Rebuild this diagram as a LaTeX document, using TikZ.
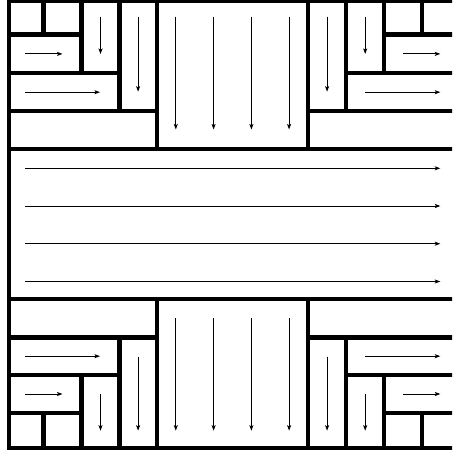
\documentclass[tikz,border=0pt]{standalone}
\usetikzlibrary{arrows.meta}
\begin{document}
\begin{tikzpicture}[x=1pt,y=-1pt,
  wall/.style={line width=4.4pt,line cap=rect},
  flow/.style={line width=0.9pt,-{Stealth[length=5.5pt,width=4pt,inset=1.2pt]}}]
\useasboundingbox (0,0) rectangle (452,454);
\clip (0,0) rectangle (452,454);
% grid positions (pixels)
\def\cA{8.7}\def\cB{43.5}\def\cC{81.6}\def\cD{119.3}\def\cE{156.9}
\def\cF{308}\def\cG{346.2}\def\cH{384.2}\def\cI{422}\def\cJ{457}
\def\rA{0.5}\def\rB{34.5}\def\rC{73.3}\def\rD{111}\def\rE{148.8}
\def\rF{299}\def\rG{337.3}\def\rH{375}\def\rI{413}\def\rJ{448}
% frame
\draw[wall] (\cA,\rA) rectangle (\cJ,\rJ);
% top-left
\draw[wall] (\cB,\rA) -- (\cB,\rB);
\draw[wall] (\cC,\rA) -- (\cC,\rC);
\draw[wall] (\cD,\rA) -- (\cD,\rD);
\draw[wall] (\cE,\rA) -- (\cE,\rE);
\draw[wall] (\cA,\rB) -- (\cC,\rB);
\draw[wall] (\cA,\rC) -- (\cD,\rC);
\draw[wall] (\cA,\rD) -- (\cE,\rD);
\draw[wall] (\cA,\rE) -- (\cJ,\rE);
% top-right
\draw[wall] (\cI,\rA) -- (\cI,\rB);
\draw[wall] (\cH,\rA) -- (\cH,\rC);
\draw[wall] (\cG,\rA) -- (\cG,\rD);
\draw[wall] (\cF,\rA) -- (\cF,\rE);
\draw[wall] (\cH,\rB) -- (\cJ,\rB);
\draw[wall] (\cG,\rC) -- (\cJ,\rC);
\draw[wall] (\cF,\rD) -- (\cJ,\rD);
% bottom
\draw[wall] (\cA,\rF) -- (\cJ,\rF);
\draw[wall] (\cA,\rG) -- (\cE,\rG);
\draw[wall] (\cA,\rH) -- (\cD,\rH);
\draw[wall] (\cA,\rI) -- (\cC,\rI);
\draw[wall] (\cE,\rF) -- (\cE,\rJ);
\draw[wall] (\cD,\rG) -- (\cD,\rJ);
\draw[wall] (\cC,\rH) -- (\cC,\rJ);
\draw[wall] (\cB,\rI) -- (\cB,\rJ);
\draw[wall] (\cF,\rG) -- (\cJ,\rG);
\draw[wall] (\cG,\rH) -- (\cJ,\rH);
\draw[wall] (\cH,\rI) -- (\cJ,\rI);
\draw[wall] (\cF,\rF) -- (\cF,\rJ);
\draw[wall] (\cG,\rG) -- (\cG,\rJ);
\draw[wall] (\cH,\rH) -- (\cH,\rJ);
\draw[wall] (\cI,\rI) -- (\cI,\rJ);
% arrows top-left
\draw[flow] (25,53.9) -- (62.5,53.9);
\draw[flow] (25,92.2) -- (100,92.2);
\draw[flow] (100.5,16.7) -- (100.5,54);
\draw[flow] (138.1,16.7) -- (138.1,91.7);
% arrows top-middle
\foreach \x in {175.8,213.6,251.4,289.1}
  \draw[flow] (\x,16.7) -- (\x,129.5);
% arrows top-right
\draw[flow] (327.1,16.7) -- (327.1,91.7);
\draw[flow] (365.2,16.7) -- (365.2,54);
\draw[flow] (403,53.9) -- (440.3,53.9);
\draw[flow] (365.3,92.2) -- (440.3,92.2);
% middle band
\foreach \y in {168.3,206,243.7,281.5}
  \draw[flow] (25,\y) -- (440.3,\y);
% arrows bottom-left
\draw[flow] (25,356.2) -- (100,356.2);
\draw[flow] (25,394) -- (62.5,394);
\draw[flow] (138.1,356.7) -- (138.1,430.7);
\draw[flow] (100.5,394) -- (100.5,430.7);
% arrows bottom-middle
\foreach \x in {175.8,213.6,251.4,289.1}
  \draw[flow] (\x,318) -- (\x,430.7);
% arrows bottom-right
\draw[flow] (327.1,356.7) -- (327.1,430.7);
\draw[flow] (365.2,394) -- (365.2,430.7);
\draw[flow] (365.3,356.2) -- (440.3,356.2);
\draw[flow] (403,394) -- (440.3,394);
\end{tikzpicture}
\end{document}
